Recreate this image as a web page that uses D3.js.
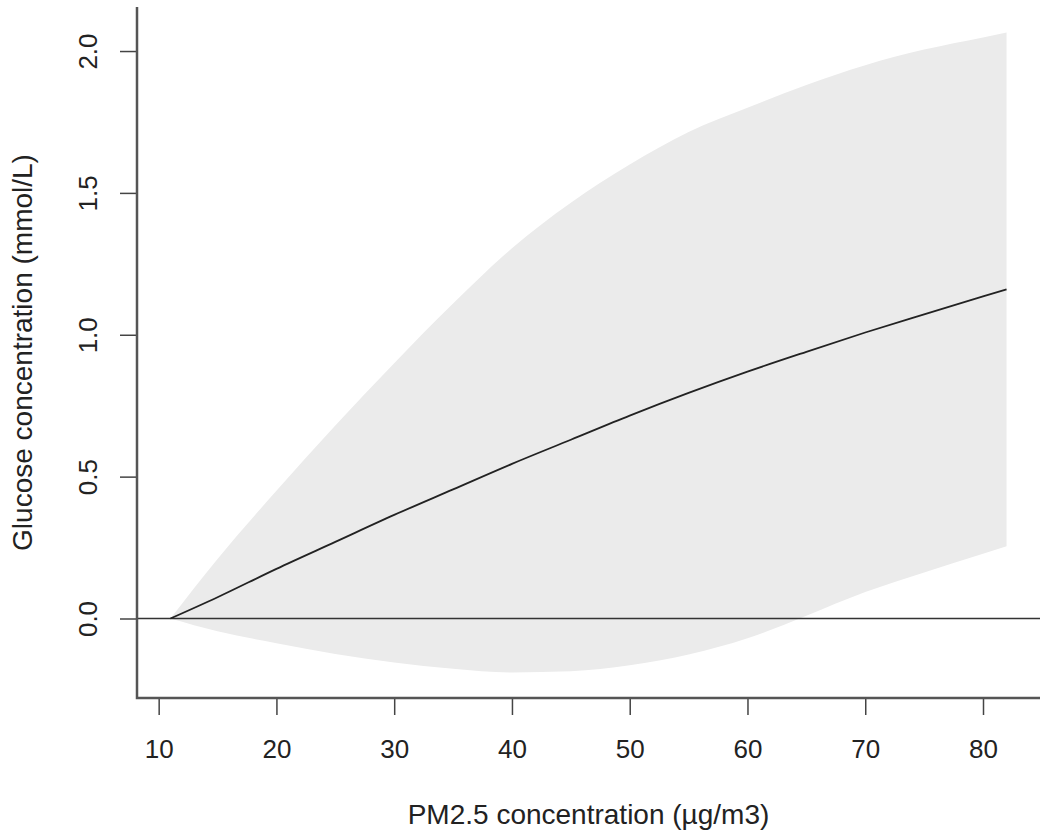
<!DOCTYPE html>
<html>
<head>
<meta charset="utf-8">
<script src="https://cdn.jsdelivr.net/npm/d3@7"></script>
<style>
  html, body { margin: 0; padding: 0; background: #fff; }
  svg { display: block; font-family: 'Liberation Sans', Arial, sans-serif; }
</style>
</head>
<body>
<div id="chart"></div>
<script>
// PM2.5 concentration (x) and the fitted glucose change with its confidence band
const pm25 = [11, 15, 20, 25, 30, 35, 40, 45, 50, 55, 60, 65, 70, 75, 80, 82];
const fit = [0, 0.075, 0.175, 0.27, 0.365, 0.455, 0.545, 0.63, 0.715, 0.795, 0.87, 0.94, 1.008, 1.072, 1.135, 1.16];
const upper = [0, 0.21, 0.45, 0.68, 0.9, 1.11, 1.305, 1.465, 1.6, 1.715, 1.8, 1.88, 1.95, 2.005, 2.048, 2.065];
const lower = [0, -0.045, -0.087, -0.125, -0.155, -0.177, -0.19, -0.186, -0.165, -0.127, -0.07, 0.01, 0.093, 0.162, 0.228, 0.255];

const xTicks = [10, 20, 30, 40, 50, 60, 70, 80];
const yTicks = [0, 0.5, 1.0, 1.5, 2.0];

const xTitle = 'PM2.5 concentration (\u00b5g/m3)';
const yTitle = 'Glucose concentration (mmol/L)';

const width = 1050;
const height = 838;
const margins = { top: 7, right: 10, bottom: 140, left: 137 };
const graphWidth = width - margins.left - margins.right;
const graphHeight = height - margins.top - margins.bottom;

const svg = d3
  .select('#chart')
  .append('svg')
  .attr('width', width)
  .attr('height', height);

const graph = svg
  .append('g')
  .attr('transform', `translate(${margins.left}, ${margins.top})`);

// R style axis ranges: data range padded by 4% on each side
const xMin = d3.min(pm25);
const xMax = d3.max(pm25);
const xPad = (xMax - xMin) * 0.04;
const yMin = d3.min(lower);
const yMax = d3.max(upper);
const yPad = (yMax - yMin) * 0.04;

const x = d3.scaleLinear().domain([xMin - xPad, xMax + xPad]).range([0, graphWidth]);
const y = d3.scaleLinear().domain([yMin - yPad, yMax + yPad]).range([graphHeight, 0]);

const rows = pm25.map((d, i) => ({ x: d, fit: fit[i], lo: lower[i], hi: upper[i] }));

// confidence band
const band = d3
  .area()
  .x((d) => x(d.x))
  .y0((d) => y(d.lo))
  .y1((d) => y(d.hi))
  .curve(d3.curveMonotoneX);

graph
  .append('path')
  .datum(rows)
  .attr('fill', '#ebebeb')
  .attr('d', band);

// reference line at zero
graph
  .append('line')
  .attr('x1', 0)
  .attr('x2', graphWidth)
  .attr('y1', y(0))
  .attr('y2', y(0))
  .attr('stroke', '#333')
  .attr('stroke-width', 1.6);

// fitted curve
const line = d3
  .line()
  .x((d) => x(d.x))
  .y((d) => y(d.fit))
  .curve(d3.curveMonotoneX);

graph
  .append('path')
  .datum(rows)
  .attr('fill', 'none')
  .attr('stroke', '#222')
  .attr('stroke-width', 1.8)
  .attr('d', line);

// axes
const xAxisGroup = graph
  .append('g')
  .attr('transform', `translate(0, ${graphHeight})`)
  .call(d3.axisBottom(x).tickValues(xTicks).tickSize(17).tickSizeOuter(0).tickPadding(25));

const yAxisGroup = graph
  .append('g')
  .call(
    d3
      .axisLeft(y)
      .tickValues(yTicks)
      .tickSize(17)
      .tickSizeOuter(0)
      .tickFormat(d3.format('.1f'))
  );

[xAxisGroup, yAxisGroup].forEach((g) => {
  g.select('.domain').remove();
  g.selectAll('.tick line').attr('stroke', '#444').attr('stroke-width', 1.5);
  g.selectAll('.tick text')
    .attr('fill', '#222')
    .style('font-size', '26px')
    .style('font-family', "'Liberation Sans', Arial, sans-serif");
});

yAxisGroup
  .selectAll('.tick text')
  .attr('transform', 'rotate(-90)')
  .attr('x', 0)
  .attr('y', -40)
  .attr('dy', 0)
  .attr('text-anchor', 'middle');

// L shaped box
graph
  .append('path')
  .attr('d', `M0,0V${graphHeight}H${graphWidth}`)
  .attr('fill', 'none')
  .attr('stroke', '#555')
  .attr('stroke-width', 2.5);

// axis titles
svg
  .append('text')
  .attr('x', margins.left + graphWidth / 2)
  .attr('y', 824)
  .attr('text-anchor', 'middle')
  .attr('fill', '#222')
  .style('font-size', '28px')
  .text(xTitle);

svg
  .append('text')
  .attr('transform', `translate(32, ${margins.top + graphHeight / 2}) rotate(-90)`)
  .attr('text-anchor', 'middle')
  .attr('fill', '#222')
  .style('font-size', '28px')
  .text(yTitle);
</script>
</body>
</html>
